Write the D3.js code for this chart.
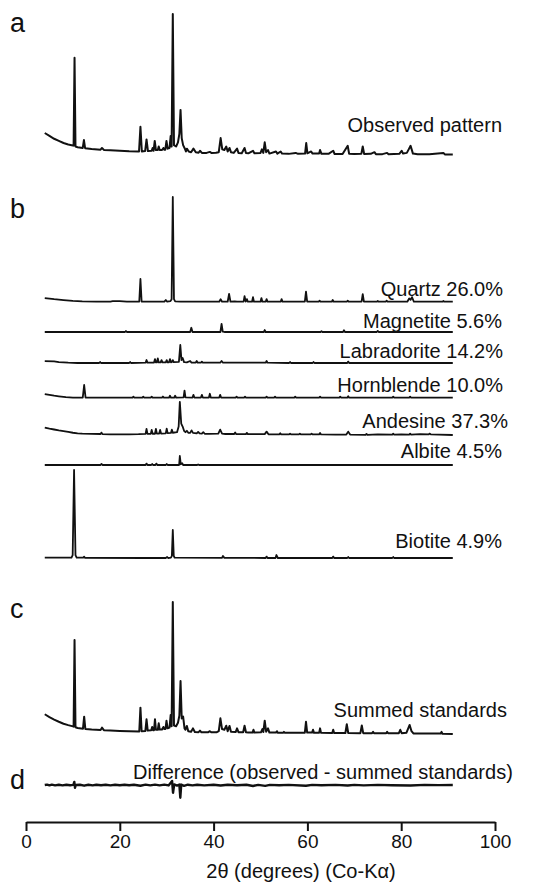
<!DOCTYPE html>
<html>
<head>
<meta charset="utf-8">
<script src="https://cdn.jsdelivr.net/npm/d3@7"></script>
<style>
  body { margin: 0; background: #fff; }
  text { font-family: "Liberation Sans", Arial, Helvetica, sans-serif; fill: #111; }
</style>
</head>
<body>
<div id="chart"></div>
<script>
// x ticks
var xTicks = [0, 20, 40, 60, 80, 100];

// patterns: [2theta, intensity], main observed peak = 100
var observed = [[4,15.6],[5,13.5],[6,11.5],[7,10],[8,8.5],[9,7.5],[10,6.8],
  [10.15,6.6],[10.35,69],[10.55,6],[11,5.5],[12.1,5],[12.35,10.6],[12.6,4.8],
  [14,4.2],[15.9,3.8],[16.2,5],[16.6,3.6],[18,3.3],[20,3],[22,2.6],[24.1,2.5],[24.4,20],[24.7,2.5],
  [25.4,2.8],[25.7,11],[26,2.8],[26.8,3],[27.0,5],[27.2,3],[27.45,10],[27.7,3.5],[28.1,3.5],[28.3,6],
  [28.5,3.5],[29,3.5],[29.3,5],[29.5,3.8],[29.7,3.8],[29.95,10],[30.2,4.5],[30.6,5],[30.85,13.5],
  [31.05,6],[31.3,100],[31.55,7],[32,6],[32.4,9],[32.7,15],[32.95,32],[33.2,12],[33.5,7],[33.8,5],
  [34.1,2.5],[34.3,4.5],[34.7,2.5],[35.2,2],[35.7,4.5],[36.2,2],[36.8,1.6],[37.1,3],[37.5,1.5],
  [38.5,1.5],[39.2,2.2],[39.6,1.4],[40.5,1.6],[41.1,2],[41.5,12],[41.85,4],[42.3,3.5],[42.7,6],
  [43.0,2.5],[43.4,5],[43.7,2],[44.3,1.5],[45,4.5],[45.3,1.5],[46,1.3],[46.6,5],[46.9,1.4],[47.4,1.2],
  [48.4,3],[48.7,1.2],[50,1.5],[50.3,4],[50.6,1.5],[50.9,9],[51.2,2],[51.6,3.5],[51.9,1],[53.3,2.5],
  [53.6,1],[54.3,2.5],[54.6,1],[56,0.8],[57.5,1.5],[58,0.8],[59.5,1],[59.75,8.5],[60,1.2],[60.8,2.5],
  [61.1,1],[62.5,1],[62.7,3.5],[63,0.8],[64.5,0.8],[65.5,3],[65.8,0.7],[67.5,0.7],[68.6,6.5],[68.9,0.8],
  [70,0.7],[71.5,0.8],[71.8,6],[72.1,0.7],[73.5,0.8],[74.3,2],[74.6,0.6],[76,0.6],[77,1.5],[77.3,0.6],
  [79.6,0.8],[80.1,3],[80.4,1],[81.2,1.5],[81.6,4],[82,6.5],[82.5,1],[83.5,0.6],[86,0.6],[89,1.5],
  [89.3,0.4],[91,0.4]];

var quartz = [[4,2.8],[6,2],[8,1.4],[10,0.8],[12,0.5],[15,0.3],[18,0.3],[18.5,0.6],[20,0.6],[21.5,0.3],
  [23,0.3],[24.15,0.3],[24.4,16.3],[24.65,0.3],[27,0.2],[29.5,0.3],[29.8,1.4],[30.1,0.3],[30.8,0.6],
  [31.05,2],[31.3,74.5],[31.55,2],[31.8,0.4],[33,0.2],[41.2,0.2],[41.5,2],[41.8,0.2],[43,0.2],[43.3,5.7],
  [43.6,0.2],[44.5,0.4],[45,0.2],[46.4,0.2],[46.6,4.2],[46.85,0.3],[47.1,2],[47.3,0.2],[48.2,0.2],
  [48.4,3.5],[48.6,0.2],[50,0.2],[50.2,2.8],[50.4,0.2],[51.1,0.2],[51.3,2],[51.5,0.2],[54.3,0.2],
  [54.5,2],[54.7,0.2],[59.45,0.2],[59.7,7.3],[59.95,0.2],[62.4,0.2],[62.6,1],[62.8,0.2],[65.2,0.2],
  [65.4,1.4],[65.6,0.2],[68.4,0.2],[68.6,1],[68.8,0.2],[71.55,0.2],[71.8,5.5],[72.05,0.2],[74.8,0.2],
  [75,0.7],[75.2,0.2],[76.7,0.2],[76.9,1],[77.1,0.2],[81.3,0.2],[81.7,2.5],[82,1.5],[82.3,3.5],
  [82.7,0.2],[88.8,0.2],[89,0.7],[89.2,0.2],[91,0.2]];

var magnetite = [[4,0],[21.1,0],[21.3,0.7],[21.5,0],[35,0],[35.25,3],[35.5,0],[41.45,0],[41.7,5.7],
  [41.95,0.3],[42.3,0],[50.7,0],[50.9,1.4],[51.1,0],[62.8,0],[63.0,0.5],[63.2,0],[67.6,0],[67.8,1.2],
  [68,0],[74.8,0],[75,0.8],[75.2,0],[91,0]];

var labradorite = [[4,1.4],[6,1.1],[7,0.6],[9,0.2],[11,0],[15.6,0],[15.8,0.7],[16,0],[22,0],[22.2,0.7],
  [22.4,0],[25.5,0.2],[25.7,2.1],[25.9,0.3],[27.3,0.3],[27.5,2.8],[27.7,0.4],[27.9,0.4],[28.1,3.3],
  [28.3,0.4],[28.7,0.4],[28.9,2],[29.1,0.4],[29.8,0.4],[30,2],[30.2,0.5],[30.5,0.5],[30.7,2.8],[30.9,0.5],
  [31.1,0.6],[31.3,2],[31.5,0.6],[32.6,0.8],[32.9,12.8],[33.15,2],[33.4,3.5],[33.7,0.6],[34.3,0.5],
  [35,1.4],[35.3,0.3],[36.2,0.3],[36.4,1.4],[36.6,0.2],[37.3,0.2],[37.5,1],[37.7,0.2],[41.4,0.2],
  [41.7,1.4],[42,0.2],[51.1,0.2],[51.3,1.4],[51.5,0.2],[56.1,0],[56.3,0.7],[56.5,0],[61.1,0],[61.3,0.7],
  [61.5,0],[68.5,0],[68.7,1],[68.9,0],[91,0]];

var hornblende = [[4,2.6],[5,2],[6,1.4],[7,1.0],[8.5,0.4],[10,0.1],[12.1,0.1],[12.4,9],[12.7,0.1],
  [22.7,0],[22.9,0.7],[23.1,0],[24.8,0],[25,0.7],[25.2,0],[26.6,0],[26.8,0.7],[27,0],[29,0],[29.2,0.8],
  [29.4,0],[30.5,0],[30.7,1.4],[30.9,0],[31.6,0],[31.8,1.4],[32,0],[33.6,0.2],[33.8,5],[34.0,0.2],
  [35.5,0.1],[35.7,2],[35.9,0.1],[37.3,0.1],[37.5,2],[37.7,0.1],[39,0.1],[39.2,2.8],[39.4,0.1],
  [41.2,0.1],[41.4,2],[41.6,0.1],[44.7,0],[44.9,0.7],[45.1,0],[46.5,0],[46.7,0.7],[46.9,0],[51.1,0],
  [51.3,0.7],[51.5,0],[52.9,0],[53.1,0.7],[53.3,0],[57.2,0],[57.4,0.7],[57.6,0],[62.5,0],[62.7,0.7],
  [62.9,0],[66.8,0],[67,0.7],[67.2,0],[68.5,0],[68.7,1],[68.9,0],[78.1,0],[78.3,0.7],[78.5,0],
  [81.7,0],[81.9,0.7],[82.1,0],[91,0]];

var andesine = [[4,5.2],[5,4.5],[6,3.9],[7,3.3],[8,2.8],[9,2.2],[10,1.6],[11,1.2],[12,1],[14,0.8],
  [15.9,0.7],[16.1,1.7],[16.3,0.6],[18,0.5],[20,0.4],[22,0.5],[24,0.6],[25.5,0.8],[25.7,4.3],[25.9,0.8],
  [26.6,0.8],[26.8,3.6],[27,0.9],[27.5,0.9],[27.7,4.3],[27.9,1],[28.4,1],[28.6,3.6],[28.8,1],[29.8,1.2],
  [30,4.5],[30.2,1.3],[30.9,1.5],[31.1,3.8],[31.3,1.6],[32.2,2],[32.55,6],[32.8,23.5],[33.1,8],[33.4,6],
  [33.7,3],[34.0,2],[34.3,3],[34.6,1.6],[35,1.5],[35.3,3.3],[35.6,1.5],[36.4,1.2],[36.7,2.2],[37,1.1],
  [37.5,1],[37.8,2],[38.1,0.9],[39,0.8],[41,1],[41.4,3.8],[41.8,1],[42.5,0.7],[44.4,0.7],[44.6,1.8],
  [44.8,0.6],[46.9,0.6],[47.1,1.5],[47.3,0.6],[50.9,0.6],[51.3,2.4],[51.7,0.5],[54,0.4],[54.2,1.2],
  [54.4,0.4],[56.1,0.4],[56.3,1],[56.5,0.4],[58.2,0.4],[58.4,1],[58.6,0.4],[60.7,0.4],[60.9,1],
  [61.1,0.4],[62.5,0.4],[62.7,1.4],[62.9,0.4],[66,0.2],[68.3,0.3],[68.7,2.4],[69.1,0.3],[72.4,0.1],
  [72.6,0.8],[72.8,0.1],[75,0.4],[78.1,0.3],[78.3,1],[78.5,0.2],[80,0.4],[81.7,0.3],[81.9,1],[82.1,0.3],
  [84,0.6],[85.9,0.5],[86.1,1],[86.3,0.4],[88,0.2],[91,0]];

var albite = [[4,0],[15.9,0],[16.1,0.8],[16.3,0],[25.5,0],[25.7,1],[25.9,0],[26.7,0],[26.9,0.7],[27.1,0],
  [27.6,0],[27.8,1],[28,0],[29.8,0],[30,0.7],[30.2,0],[32.65,0],[32.8,6.4],[33.0,0.5],[33.3,1.2],
  [33.5,0],[36.5,0],[36.7,0.4],[36.9,0],[91,0]];

var biotite = [[4,0.2],[8,0.2],[9.7,0.3],[9.95,2],[10.25,62.4],[10.55,2],[10.8,0.3],[12.2,0.2],
  [12.4,0.9],[12.6,0.1],[25,0],[29.8,0],[30.1,0.7],[30.3,0],[30.9,0.3],[31.1,1.5],[31.3,19.9],[31.5,1.5],
  [31.7,0.2],[41.8,0.1],[42.0,1.4],[42.3,0.1],[51.1,0],[51.3,1],[51.5,0],[53.2,0],[53.4,2.1],[53.7,0],
  [65.3,0],[65.5,1],[65.7,0],[68.5,0],[68.7,0.7],[68.9,0],[78.1,0],[78.3,0.7],[78.5,0],[91,0]];

var summed = [[4,14],[5,12],[6,10.2],[7,8.7],[8,7.3],[9,6.3],[10,5.4],[10.15,5.2],[10.35,66.7],
  [10.55,4.8],[11,4.3],[12.15,3.8],[12.4,12.3],[12.65,3.6],[14,3.2],[15.9,2.9],[16.2,4.5],[16.6,2.7],
  [18,2.5],[20,2.2],[22,2],[24.15,1.8],[24.4,18.7],[24.65,1.9],[25.45,2.2],[25.7,10.4],[25.95,2.4],
  [26.7,2.6],[26.9,5],[27.1,2.6],[27.3,2.7],[27.5,10.4],[27.7,3],[28.1,3],[28.3,7.6],[28.5,3.2],[29,3.2],
  [29.3,5],[29.5,3.5],[29.75,3.6],[29.95,9.4],[30.2,4],[30.6,4.5],[30.85,13.5],[31.05,5.5],[31.3,93.6],
  [31.55,6],[32,5.5],[32.4,8],[32.7,13],[32.95,37.6],[33.2,11],[33.5,12.3],[33.8,4],[34.0,3],[34.3,5.7],
  [34.6,2],[35.2,1.6],[35.6,4],[36,1.4],[36.8,1.3],[37.1,2.4],[37.4,1.2],[38.8,1.2],[39.2,2],[39.5,1.2],
  [40.7,1.3],[41.1,2],[41.45,11.1],[41.8,3.5],[42.3,3],[42.7,5.9],[43.0,2],[43.4,5.7],[43.7,1.6],
  [44.7,1.4],[45,4],[45.3,1.3],[46.3,1.2],[46.6,5.9],[46.9,1.3],[47.4,1],[48.3,1],[48.5,3],[48.7,1],
  [50.1,1.2],[50.4,3.5],[50.6,1.4],[50.9,9.4],[51.2,1.6],[51.6,4],[51.9,1],[53.3,1],[53.5,2],[53.7,0.8],
  [54.8,0.8],[55,1.5],[55.2,0.8],[57.5,0.8],[59.45,0.9],[59.7,8.7],[59.95,1],[61,1],[61.2,3],[61.4,0.8],
  [62.5,0.8],[62.7,4],[62.9,0.8],[65.3,0.7],[65.5,3],[65.7,0.7],[68.1,0.7],[68.4,6.9],[68.7,0.7],
  [71.3,0.6],[71.6,6],[71.9,0.6],[73.8,0.6],[74,1.5],[74.2,0.5],[76.8,0.5],[77,1.5],[77.2,0.5],
  [79.5,0.6],[79.8,3],[80.1,0.6],[81.1,0.8],[81.5,4],[81.8,6.4],[82.2,2],[82.6,0.4],[85,0.3],
  [88.4,0.3],[88.6,1.5],[88.8,0.2],[91,0]];

var difference = [[4,0],[4.5,0.3],[5,-0.25],[5.5,0.25],[6.2,-0.25],[7,0.2],[7.8,-0.25],[8.6,0.2],
  [9.4,-0.2],[10.1,0.1],[10.3,2.2],[10.45,-2],[10.6,0],[11.5,0.2],[12.4,-0.5],[13.3,0.2],[14.2,-0.3],
  [15,0.2],[16,-0.2],[17,0.2],[18,-0.25],[19,0.2],[20,-0.2],[21,0.2],[22,-0.2],[23,0.2],[24.4,-0.5],
  [25.5,0.25],[26.5,-0.25],[27.5,0.25],[28.5,-0.25],[29.5,0.3],[30.4,-0.3],[31.15,2.8],[31.35,-5.5],
  [31.6,0.4],[32.2,-0.4],[32.7,0.3],[32.9,-9],[33.1,0.3],[33.7,-0.6],[34.5,0.2],[35.5,-0.3],[36.5,0.2],
  [38,-0.25],[40,0.2],[41.5,-0.4],[43,0.2],[45,-0.2],[47,0.2],[48.4,-0.7],[49.5,0.1],[51,-0.6],[52,0.1],
  [54,-0.2],[56,0.1],[59.7,-0.5],[61,0.1],[63,-0.2],[66,0.1],[68.6,-0.4],[70,0.1],[72,-0.3],[75,0.1],
  [78,-0.2],[82,-0.4],[85,0.1],[88,-0.1],[91,0]];

var seriesNames = ["Observed pattern", "Quartz 26.0%", "Magnetite 5.6%", "Labradorite 14.2%",
  "Hornblende 10.0%", "Andesine 37.3%", "Albite 4.5%", "Biotite 4.9%", "Summed standards",
  "Difference (observed - summed standards)"];
var seriesData = [observed, quartz, magnetite, labradorite, hornblende, andesine, albite, biotite,
  summed, difference];

// layout (pixels): zero line, label baseline, label right end
var baseY  = [155, 302, 332, 363, 397.7, 435, 465, 558, 734, 785];
var labelY = [132, 296, 328, 358, 391.5, 428, 458, 548, 716.5, 779];
var labelX = [502, 503, 502, 503, 503, 508, 502, 502, 507, 133];

var panelLetters = ["a", "b", "c", "d"];
var letterY = [32, 218, 618, 789];

var width = 542, height = 888;

var svg = d3.select("#chart").append("svg")
    .attr("width", width)
    .attr("height", height)
    .style("background", "#fff");

var x = d3.scaleLinear().domain([0, 100]).range([26, 495]);

seriesData.forEach(function (data, i) {
    var y = d3.scaleLinear().domain([0, 100]).range([baseY[i], baseY[i] - 141]);
    var line = d3.line()
        .x(function (d) { return x(d[0]); })
        .y(function (d) { return y(d[1]); });

    svg.append("path")
        .datum(data)
        .attr("d", line)
        .attr("fill", "none")
        .attr("stroke", "#111")
        .attr("stroke-width", (i == 0 || i == 8) ? 2 : (i == 9 ? 2.4 : 1.8))
        .attr("stroke-linejoin", "round");

    svg.append("text")
        .attr("x", labelX[i])
        .attr("y", labelY[i])
        .attr("text-anchor", i == 9 ? "start" : "end")
        .attr("font-size", "20px")
        .text(seriesNames[i]);
});

// panel letters
svg.selectAll(".letter")
    .data(panelLetters)
    .enter().append("text")
    .attr("class", "letter")
    .attr("x", 10)
    .attr("y", function (d, i) { return letterY[i]; })
    .attr("font-size", "27px")
    .text(function (d) { return d; });

// x axis
var xAxisCall = d3.axisBottom(x)
    .tickValues(xTicks)
    .tickSizeInner(9)
    .tickSizeOuter(0);

var xAxisGroup = svg.append("g")
    .attr("transform", "translate(0,822)")
    .call(xAxisCall);

xAxisGroup.select(".domain").attr("stroke", "#111").attr("stroke-width", 2);
xAxisGroup.selectAll(".tick line").attr("stroke", "#111").attr("stroke-width", 2);
xAxisGroup.selectAll(".tick text")
    .attr("y", 26)
    .attr("dy", 0)
    .attr("font-size", "19px")
    .attr("font-family", "Liberation Sans, Arial, sans-serif")
    .attr("fill", "#111");

svg.append("text")
    .attr("x", 301)
    .attr("y", 878)
    .attr("text-anchor", "middle")
    .attr("font-size", "20px")
    .text("2θ (degrees) (Co-Kα)");
</script>
</body>
</html>
